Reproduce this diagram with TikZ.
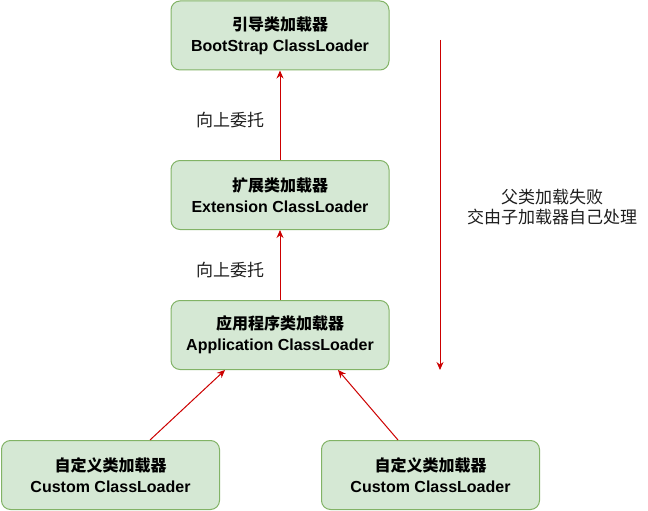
\documentclass[tikz,border=0pt]{standalone}
\usepackage{fontspec}
\setmainfont{Liberation Sans}
\newfontfamily\cjk{Noto Sans CJK SC}
\usepackage{tikz}
\usetikzlibrary{arrows.meta, positioning}
\usepackage{xcolor}
\definecolor{cBoxFill}{RGB}{213,232,212}
\definecolor{cBoxLine}{RGB}{130,179,102}
\definecolor{cRed}{RGB}{204,0,0}
\definecolor{cText}{RGB}{30,30,30}
\tikzset{
  loaderbox/.style={rectangle, rounded corners=9pt, draw=cBoxLine, fill=cBoxFill,
                    line width=1pt, minimum width=218pt, minimum height=69pt,
                    align=center, font=\fontsize{16}{21}\selectfont\bfseries,
                    inner sep=0pt},
  notetext/.style={align=center, text=cText, font=\fontsize{17}{20}\selectfont\cjk},
  redarrow/.style={-{Stealth[length=8pt,width=7pt]}, line width=1pt, color=cRed}
}
\begin{document}
\begin{tikzpicture}[x=1pt, y=-1pt]
  \useasboundingbox (0,0) rectangle (648,511);

  % Loader boxes
  \node[loaderbox] (boot) at (280,35.5) {{\cjk 引导类加载器}\\BootStrap ClassLoader};
  \node[loaderbox] (ext)  at (280,195)  {{\cjk 扩展类加载器}\\Extension ClassLoader};
  \node[loaderbox] (app)  at (280,335)  {{\cjk 应用程序类加载器}\\Application ClassLoader};
  \node[loaderbox] (cusA) at (110.5,475) {{\cjk 自定义类加载器}\\Custom ClassLoader};
  \node[loaderbox] (cusB) at (430.5,475) {{\cjk 自定义类加载器}\\Custom ClassLoader};

  % Delegation upwards
  \draw[redarrow] (ext) -- (boot);
  \draw[redarrow] (app) -- (ext);
  \draw[redarrow] (cusA.north -| 150,0) -- (app.south -| 225,0);
  \draw[redarrow] (cusB.north -| 398,0) -- (app.south -| 338,0);
  \node[notetext] (upA) at (230,120) {向上委托};
  \node[notetext] (upB) at (230,270) {向上委托};

  % Fallback downwards
  \coordinate (failTop) at (440,40);
  \coordinate (failEnd) at (440,370);
  \draw[redarrow] (failTop) -- (failEnd);
  \node[notetext] (fail) at (552,207) {父类加载失败\\交由子加载器自己处理};
\end{tikzpicture}
\end{document}
